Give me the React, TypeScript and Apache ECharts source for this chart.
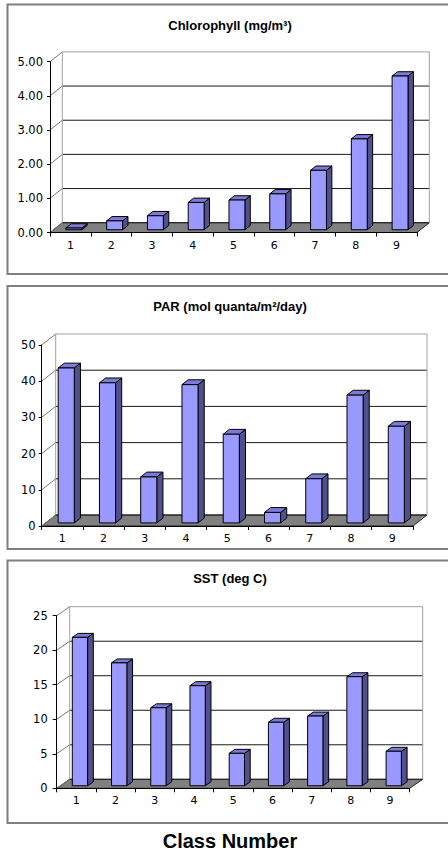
import React, { useEffect, useRef } from "react";
import * as echarts from "echarts";

// Class numbers along every category axis
const classes = ["1", "2", "3", "4", "5", "6", "7", "8", "9"];

// Mean values per class
const chlorophyll = [0.05, 0.26, 0.41, 0.8, 0.87, 1.05, 1.74, 2.66, 4.5];
const par = [42.8, 38.7, 12.7, 38.2, 24.5, 2.9, 12.2, 35.3, 26.7];
const sst = [21.5, 17.8, 11.3, 14.5, 4.7, 9.2, 10.1, 15.8, 5.0];

// Value-axis ranges: [max, step, decimals]
const chlorophyllAxis = [5, 1, 2];
const parAxis = [50, 10, 0];
const sstAxis = [25, 5, 0];

// Panel titles
const chlorophyllTitle = "Chlorophyll (mg/m³)";
const parTitle = "PAR (mol quanta/m²/day)";
const sstTitle = "SST (deg C)";
const xAxisTitle = "Class Number";

const FRONT = "#9999ff";
const TOP = "#7c7cd8";
const SIDE = "#50508c";
const FLOOR = "#808080";
const BAR_RATIO = 0.39;
const BAR_FRONT = 0.28; // depth fraction where a column's front face sits
const BAR_DEPTH = 0.44; // depth fraction taken by a column

const TICK_FONT = "DejaVu Sans";
const TITLE_FONT = "Liberation Sans";

type Panel = {
  title: string;
  values: number[];
  axis: number[];
  grid: { left: number; top: number; width: number; height: number };
  depth: { dx: number; dy: number };
  tickLen: number;
  labelMargin: number;
  titleY: number;
  frameTop: number;
  frameBottom: number;
};

const panels: Panel[] = [
  {
    title: chlorophyllTitle,
    values: chlorophyll,
    axis: chlorophyllAxis,
    grid: { left: 50, top: 61.7, width: 367, height: 170.8 },
    depth: { dx: 12.3, dy: -9.8 },
    tickLen: 3,
    labelMargin: 4,
    titleY: 25,
    frameTop: 4.5,
    frameBottom: 274,
  },
  {
    title: parTitle,
    values: par,
    axis: parAxis,
    grid: { left: 41.7, top: 345, width: 371.3, height: 181 },
    depth: { dx: 14, dy: -11 },
    tickLen: 3,
    labelMargin: 3,
    titleY: 306.5,
    frameTop: 286,
    frameBottom: 549,
  },
  {
    title: sstTitle,
    values: sst,
    axis: sstAxis,
    grid: { left: 56.7, top: 615.7, width: 353, height: 172.6 },
    depth: { dx: 13, dy: -9 },
    tickLen: 4,
    labelMargin: 5,
    titleY: 578,
    frameTop: 560.5,
    frameBottom: 823,
  },
];

function wallRenderer(panel: Panel) {
  const { dx, dy } = panel.depth;
  const [max, step] = panel.axis;
  return (params: any, api: any) => {
    const cs = params.coordSys;
    const x0 = cs.x;
    const x1 = cs.x + cs.width;
    const y0 = api.coord([0, 0])[1];
    const yTop = api.coord([0, max])[1];
    const children: any[] = [];
    // floor
    children.push({
      type: "polygon",
      shape: { points: [[x0, y0], [x1, y0], [x1 + dx, y0 + dy], [x0 + dx, y0 + dy]] },
      style: { fill: FLOOR, stroke: "#222", lineWidth: 1 },
    });
    // side-wall diagonals and back-wall gridlines
    for (let v = 0; v <= max + 1e-9; v += step) {
      const y = api.coord([0, v])[1];
      children.push({
        type: "line",
        shape: { x1: x0, y1: y, x2: x0 + dx, y2: y + dy },
        style: { stroke: "#777", lineWidth: 1 },
      });
      const inner = v > 1e-9 && v < max - 1e-9;
      children.push({
        type: "line",
        shape: { x1: x0 + dx, y1: y + dy, x2: x1 + dx, y2: y + dy },
        style: { stroke: inner ? "#1a1a1a" : v === 0 ? "#222" : "#a0a0a0", lineWidth: 1 },
      });
    }
    // back-wall vertical edges
    children.push({
      type: "line",
      shape: { x1: x0 + dx, y1: y0 + dy, x2: x0 + dx, y2: yTop + dy },
      style: { stroke: "#a0a0a0", lineWidth: 1 },
    });
    children.push({
      type: "line",
      shape: { x1: x1 + dx, y1: y0 + dy, x2: x1 + dx, y2: yTop + dy },
      style: { stroke: "#a0a0a0", lineWidth: 1 },
    });
    return { type: "group", children };
  };
}

function barRenderer(panel: Panel) {
  const { dx, dy } = panel.depth;
  return (params: any, api: any) => {
    const idx = api.value(0);
    const v = api.value(1);
    const base = api.coord([idx, 0]);
    const top = api.coord([idx, v]);
    const band = api.size([1, 0])[0];
    const w = band * BAR_RATIO;
    const ox = dx * BAR_FRONT;
    const oy = dy * BAR_FRONT;
    const ddx = dx * BAR_DEPTH;
    const ddy = dy * BAR_DEPTH;
    const xl = base[0] - w / 2 + ox;
    const xr = xl + w;
    const yb = base[1] + oy;
    const yt = top[1] + oy;
    const edge = { stroke: "#000", lineWidth: 1, lineJoin: "round" };
    return {
      type: "group",
      children: [
        {
          type: "polygon",
          shape: { points: [[xr, yt], [xr + ddx, yt + ddy], [xr + ddx, yb + ddy], [xr, yb]] },
          style: { fill: SIDE, ...edge },
        },
        {
          type: "polygon",
          shape: { points: [[xl, yt], [xr, yt], [xr + ddx, yt + ddy], [xl + ddx, yt + ddy]] },
          style: { fill: TOP, ...edge },
        },
        {
          type: "rect",
          shape: { x: xl, y: yt, width: w, height: yb - yt },
          style: { fill: FRONT, ...edge },
        },
      ],
    };
  };
}

function buildOption() {
  const grid: any[] = [];
  const xAxis: any[] = [];
  const yAxis: any[] = [];
  const series: any[] = [];
  const graphic: any[] = [];

  panels.forEach((p, i) => {
    const [max, step, decimals] = p.axis;
    grid.push({ ...p.grid, containLabel: false });
    xAxis.push({
      type: "category",
      gridIndex: i,
      data: classes,
      z: 5,
      axisLine: { show: true, lineStyle: { color: "#000", width: 1 } },
      axisTick: { show: true, length: 4, lineStyle: { color: "#000" } },
      axisLabel: {
        margin: 7,
        color: "#000",
        fontFamily: TICK_FONT,
        fontSize: 11,
      },
      splitLine: { show: false },
    });
    yAxis.push({
      type: "value",
      gridIndex: i,
      min: 0,
      max,
      interval: step,
      z: 5,
      axisLine: { show: true, lineStyle: { color: "#000", width: 1 } },
      axisTick: { show: true, length: p.tickLen, lineStyle: { color: "#000" } },
      axisLabel: {
        margin: p.labelMargin + p.tickLen,
        color: "#000",
        fontFamily: TICK_FONT,
        fontSize: 11.5,
        formatter: (v: number) => v.toFixed(decimals),
      },
      splitLine: { show: false },
    });
    series.push({
      type: "custom",
      xAxisIndex: i,
      yAxisIndex: i,
      z: 1,
      silent: true,
      data: [[0, 0]],
      renderItem: wallRenderer(p),
    });
    series.push({
      type: "custom",
      xAxisIndex: i,
      yAxisIndex: i,
      z: 2,
      silent: true,
      data: p.values.map((v, k) => [k, v]),
      renderItem: barRenderer(p),
    });
    graphic.push({
      type: "rect",
      shape: { x: 7.5, y: p.frameTop, width: 470, height: p.frameBottom - p.frameTop },
      style: { fill: "none", stroke: "#7f7f7f", lineWidth: 2 },
      z: 0,
    });
    graphic.push({
      type: "text",
      x: 230,
      y: p.titleY,
      style: {
        text: p.title,
        fontFamily: TITLE_FONT,
        fontWeight: "bold",
        fontSize: 13,
        fill: "#000",
        align: "center",
        verticalAlign: "middle",
      },
    });
  });

  graphic.push({
    type: "text",
    x: 230,
    y: 841,
    style: {
      text: xAxisTitle,
      fontFamily: "Liberation Sans",
      fontWeight: "bold",
      fontSize: 20,
      fill: "#000",
      align: "center",
      verticalAlign: "middle",
    },
  });

  return {
    animation: false,
    backgroundColor: "#ffffff",
    grid,
    xAxis,
    yAxis,
    series,
    graphic,
  };
}

export default function App() {
  const ref = useRef<HTMLDivElement>(null);
  useEffect(() => {
    document.body.style.margin = "0";
    if (!ref.current) return;
    const chart = echarts.init(ref.current, null, { renderer: "svg" });
    chart.setOption(buildOption());
    return () => chart.dispose();
  }, []);
  return (
    <div
      ref={ref}
      style={{ position: "fixed", left: 0, top: 0, width: 448, height: 852, background: "#fff" }}
    />
  );
}
